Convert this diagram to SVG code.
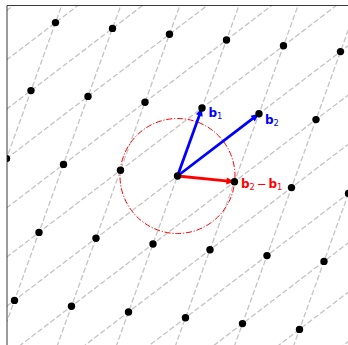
<svg xmlns="http://www.w3.org/2000/svg" width="348" height="345" viewBox="0 0 348 345">
<style>
.grid line{stroke:#c4c4c4;stroke-width:1.3;stroke-dasharray:5.5 2.4;fill:none}
.pt{fill:#000}
.lbl{font-family:"DejaVu Sans",sans-serif;font-size:12px}
.bf{font-weight:bold}
.sub{font-size:8.4px}
</style>
<defs>
<clipPath id="ax"><rect x="7" y="5.5" width="342" height="342"/></clipPath>
</defs>
<rect x="0" y="0" width="348" height="345" fill="#fff"/>
<g id="connectors" clip-path="url(#ax)">
<g class="grid">
<line x1="63.65" y1="0" x2="-62.46" y2="350"/>
<line x1="122.73" y1="0" x2="-3.37" y2="350"/>
<line x1="181.82" y1="0" x2="55.72" y2="350"/>
<line x1="240.91" y1="0" x2="114.81" y2="350"/>
<line x1="300.0" y1="0" x2="173.90" y2="350"/>
<line x1="359.09" y1="0" x2="232.99" y2="350"/>
<line x1="418.18" y1="0" x2="292.08" y2="350"/>
<line x1="0" y1="607.27" x2="350" y2="340.15"/>
<line x1="0" y1="557.97" x2="350" y2="290.85"/>
<line x1="0" y1="508.67" x2="350" y2="241.55"/>
<line x1="0" y1="459.37" x2="350" y2="192.25"/>
<line x1="0" y1="410.07" x2="350" y2="142.95"/>
<line x1="0" y1="360.77" x2="350" y2="93.65"/>
<line x1="0" y1="311.47" x2="350" y2="44.35"/>
<line x1="0" y1="262.17" x2="350" y2="-4.95"/>
<line x1="0" y1="212.87" x2="350" y2="-54.25"/>
<line x1="0" y1="163.57" x2="350" y2="-103.55"/>
<line x1="0" y1="114.27" x2="350" y2="-152.85"/>
<line x1="0" y1="64.97" x2="350" y2="-202.15"/>
<line x1="0" y1="15.67" x2="350" y2="-251.45"/>
</g>
<circle id="circle" cx="177.5" cy="176" r="57.5" fill="none" stroke="#ff0000" stroke-width="1" stroke-dasharray="6 1.8 1.2 1.8"/>
<g id="arrow-b1">
<line x1="177.5" y1="176" x2="199.97" y2="113.65" stroke="#0000ff" stroke-width="2.8"/>
<polygon points="202,108 202.58,116.72 196.0,114.34" fill="#0000ff"/>
</g>
<g id="arrow-b2">
<line x1="177.5" y1="176" x2="254.23" y2="117.44" stroke="#0000ff" stroke-width="2.8"/>
<polygon points="259,113.8 254.76,121.43 250.52,115.87" fill="#0000ff"/>
</g>
<g id="arrow-b2-b1">
<line x1="177.5" y1="176" x2="228.53" y2="181.19" stroke="#ff0000" stroke-width="2.8"/>
<polygon points="234.5,181.8 226.19,184.47 226.89,177.51" fill="#ff0000"/>
</g>
</g>
<g id="points" clip-path="url(#ax)">
<circle class="pt" cx="55.5" cy="22.6" r="3.7"/>
<circle class="pt" cx="112.5" cy="28.4" r="3.7"/>
<circle class="pt" cx="169.5" cy="34.2" r="3.7"/>
<circle class="pt" cx="226.5" cy="40" r="3.7"/>
<circle class="pt" cx="283.5" cy="45.8" r="3.7"/>
<circle class="pt" cx="340.5" cy="51.6" r="3.7"/>
<circle class="pt" cx="31" cy="90.6" r="3.7"/>
<circle class="pt" cx="88" cy="96.4" r="3.7"/>
<circle class="pt" cx="145" cy="102.2" r="3.7"/>
<circle class="pt" cx="202" cy="108" r="3.7"/>
<circle class="pt" cx="259" cy="113.8" r="3.7"/>
<circle class="pt" cx="316" cy="119.6" r="3.7"/>
<circle class="pt" cx="6.5" cy="158.6" r="3.7"/>
<circle class="pt" cx="63.5" cy="164.4" r="3.7"/>
<circle class="pt" cx="120.5" cy="170.2" r="3.7"/>
<circle class="pt" cx="177.5" cy="176" r="3.7"/>
<circle class="pt" cx="234.5" cy="181.8" r="3.7"/>
<circle class="pt" cx="291.5" cy="187.6" r="3.7"/>
<circle class="pt" cx="348.5" cy="193.4" r="3.7"/>
<circle class="pt" cx="39" cy="232.4" r="3.7"/>
<circle class="pt" cx="96" cy="238.2" r="3.7"/>
<circle class="pt" cx="153" cy="244" r="3.7"/>
<circle class="pt" cx="210" cy="249.8" r="3.7"/>
<circle class="pt" cx="267" cy="255.6" r="3.7"/>
<circle class="pt" cx="324" cy="261.4" r="3.7"/>
<circle class="pt" cx="14.5" cy="300.4" r="3.7"/>
<circle class="pt" cx="71.5" cy="306.2" r="3.7"/>
<circle class="pt" cx="128.5" cy="312" r="3.7"/>
<circle class="pt" cx="185.5" cy="317.8" r="3.7"/>
<circle class="pt" cx="242.5" cy="323.6" r="3.7"/>
<circle class="pt" cx="299.5" cy="329.4" r="3.7"/>
</g>
<g id="frame" stroke="#222" stroke-width="0.9" fill="none">
<line x1="7" y1="5.5" x2="7" y2="345"/>
<line x1="7" y1="5.5" x2="348" y2="5.5"/>
</g>
<g id="labels">
<text id="label-b1" class="lbl" x="208.5" y="116.5" fill="#0000ff"><tspan class="bf">b</tspan><tspan class="sub" dy="2.2">1</tspan></text>
<text id="label-b2" class="lbl" x="265" y="123.5" fill="#0000ff"><tspan class="bf">b</tspan><tspan class="sub" dy="2.2">2</tspan></text>
<text id="label-b2-b1" class="lbl" x="241" y="188" fill="#ff0000"><tspan class="bf">b</tspan><tspan class="sub" dy="2.2">2</tspan><tspan dy="-2.2" x="256.5">−</tspan><tspan class="bf" x="268.5">b</tspan><tspan class="sub" dy="2.2">1</tspan></text>
</g>
</svg>
